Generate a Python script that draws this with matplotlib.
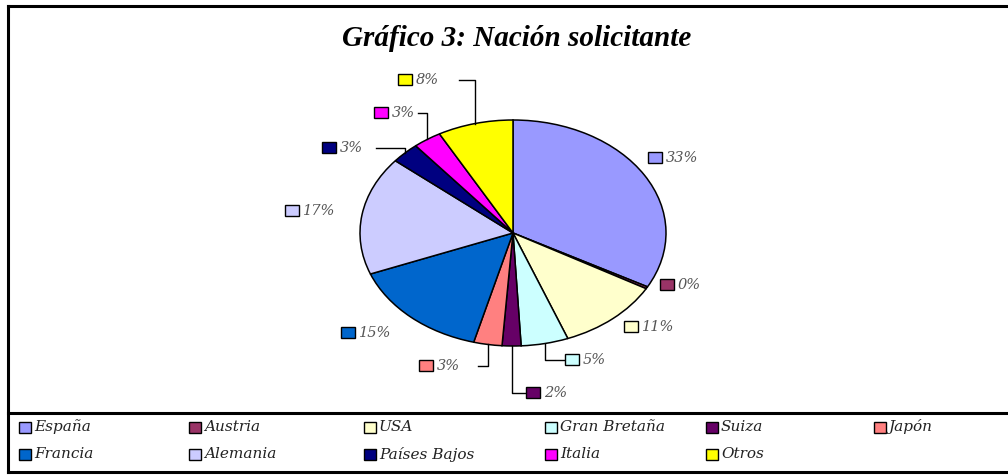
import numpy as np
import matplotlib
matplotlib.use("Agg")
import matplotlib.pyplot as plt
from matplotlib.lines import Line2D
from matplotlib.patches import Rectangle

# data (percent of requests by country)
naciones = ["España", "Austria", "USA", "Gran Bretaña", "Suiza", "Japón",
            "Francia", "Alemania", "Países Bajos", "Italia", "Otros"]
porcentajes = [33, 0.3, 11, 5, 2, 3, 15, 17, 3, 3, 8]
colores = ["#9999FF", "#993366", "#FFFFCC", "#CCFFFF", "#660066", "#FF8080",
           "#0066CC", "#CCCCFF", "#000080", "#FF00FF", "#FFFF00"]

W, H = 1008, 475
CX, CY, RX, RY = 513, 233, 153, 113

# label square position in pixels (layout) and where its leader line ends
label_px = [(655, 158), (667, 285), (631, 327), (572, 360), (533, 393), (426, 366),
            (348, 333), (292, 211), (329, 148), (381, 113), (405, 80)]
leader_end = [None, None, None, 565, 525, 478, None, None, 376, 418, 459]

LABEL_FONT = ["DejaVu Serif"]


def to_data(px, py):
    return (px - CX) / RX, (CY - py) / RY


def main():
    plt.rcParams["font.family"] = ["Liberation Serif", "DejaVu Serif"]
    fig = plt.figure(figsize=(W / 100, H / 100), dpi=100)
    ax = fig.add_axes([0, 0, 1, 1])

    wedges, _ = ax.pie(porcentajes, colors=colores, startangle=90, counterclock=False,
                       radius=1, wedgeprops=dict(edgecolor="black", linewidth=1.1))
    ax.set_aspect("auto")
    ax.set_xlim(-CX / RX, (W - CX) / RX)
    ax.set_ylim(-(H - CY) / RY, CY / RY)
    ax.axis("off")

    total = sum(porcentajes)
    for i, w in enumerate(wedges):
        ang = np.deg2rad((w.theta1 + w.theta2) / 2)
        lx, ly = to_data(*label_px[i])
        sq = Rectangle((lx - 7 / RX, ly - 5.5 / RY), 14 / RX, 11 / RY, facecolor=colores[i],
                       edgecolor="black", linewidth=1.0, zorder=5)
        ax.add_patch(sq)
        pct = "%d%%" % round(porcentajes[i] / total * 100)
        ax.text(lx + 11 / RX, ly, pct, ha="left", va="center", fontsize=10.5,
                style="italic", color="#555555", family=LABEL_FONT)
        if leader_end[i] is not None:
            ex, ey = np.cos(ang), np.sin(ang)
            tx = (leader_end[i] - CX) / RX
            ax.plot([ex, ex, tx], [ey, ly, ly], color="black", lw=1.0)

    fig.text(517 / W, 1 - 38 / H, "Gráfico 3: Nación solicitante", ha="center", va="center",
             fontsize=21, fontweight="bold", style="italic")

    # legend at the bottom
    col_x = [25, 195, 370, 551, 712, 880]
    row_y = [427, 454]
    for i, nombre in enumerate(naciones):
        r, c = divmod(i, 6)
        x, y = col_x[c], row_y[r]
        fig.add_artist(Rectangle(((x - 6) / W, 1 - (y + 5.5) / H), 12 / W, 11 / H,
                                 transform=fig.transFigure, facecolor=colores[i],
                                 edgecolor="black", linewidth=1.0))
        fig.text((x + 9) / W, 1 - y / H, nombre, ha="left", va="center", fontsize=11,
                 style="italic", family=LABEL_FONT, color="#222222")

    # frame lines
    for y in [6, 413, 472]:
        fig.add_artist(Line2D([8 / W, 1], [1 - y / H, 1 - y / H], transform=fig.transFigure,
                              color="black", lw=2.2))
    fig.add_artist(Line2D([8 / W, 8 / W], [1 - 6 / H, 1 - 472 / H], transform=fig.transFigure,
                          color="black", lw=2.2))

    fig.savefig("out.png", dpi=100)


if __name__ == "__main__":
    main()
